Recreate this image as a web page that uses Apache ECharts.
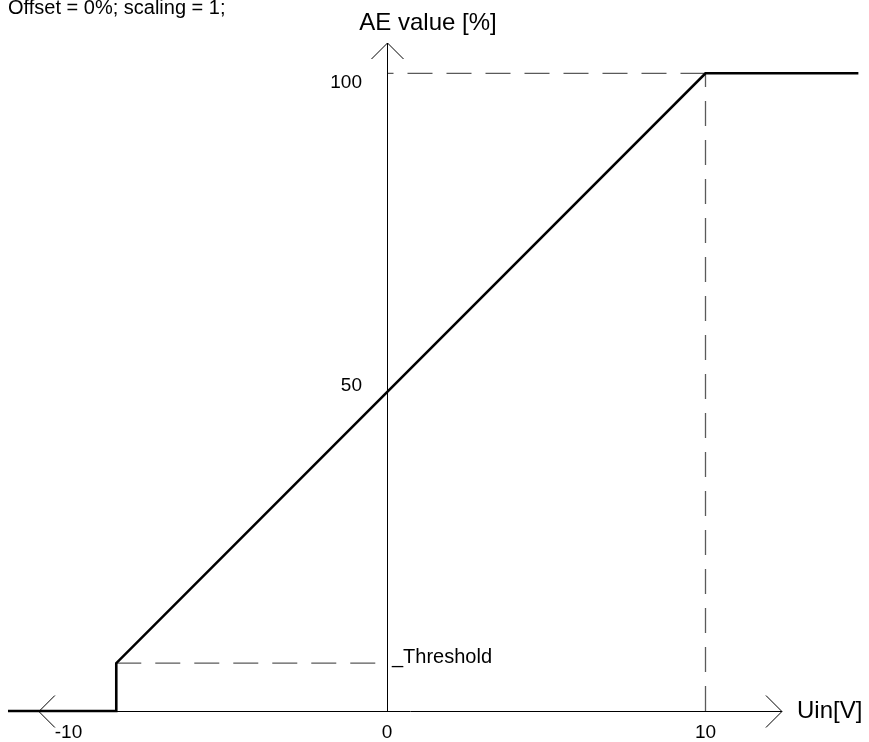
<!DOCTYPE html>
<html>
<head>
<meta charset="utf-8">
<title>AE value vs Uin</title>
<script src="https://cdn.jsdelivr.net/npm/echarts@6/dist/echarts.min.js"></script>
<style>
  html, body { margin: 0; padding: 0; background: #fff; }
  #chart { width: 869px; height: 742px; }
</style>
</head>
<body>
<div id="chart"></div>
<script>
// Transfer characteristic: input voltage Uin [V] -> AE value [%]
const uinValues = [-11.9, -8.5, -8.5, 10, 14.8];
const aeValues = [0, 0, 7.5, 100, 100];

// Reference levels
const thresholdUin = -8.5;
const thresholdAe = 7.5;
const fullScaleUin = 10;
const fullScaleAe = 100;

// Tick labels
const xTickValues = [-10, 0, 10];
const yTickValues = [50, 100];

// Drawn extent of the two axis arrows (data units)
const uinAxisRange = [-10.93, 12.4];
const aeAxisRange = [0, 104.75];

const FONT = '"Liberation Sans", Arial, Helvetica, sans-serif';
const GUIDE_COLOR = '#5a5a5a';
const GUIDE_DASH = [25, 14];

// Plot scale: 31.85 px per volt, 6.377 px per percent
const X_MIN = -12, X_MAX = 15, PX_PER_V = 31.85;
const Y_MIN = 0, Y_MAX = 105, PX_PER_PCT = 6.377;
const GRID_LEFT = 4.8;

const curve = uinValues.map((u, i) => [u, aeValues[i]]);
const guideFull = [[fullScaleUin, fullScaleAe], [0, fullScaleAe]];
const guideVertical = [[fullScaleUin, 0], [fullScaleUin, fullScaleAe]];
const guideThreshold = [[thresholdUin, thresholdAe], [0, thresholdAe]];

const chart = echarts.init(document.getElementById('chart'), null, { renderer: 'canvas' });

function px(v) { return Math.round(v) + 0.5; }

const option = {
  animation: false,
  backgroundColor: '#ffffff',
  textStyle: { fontFamily: FONT },
  title: {
    text: 'Offset = 0%; scaling = 1;',
    left: 8,
    top: -2,
    padding: 0,
    textStyle: { fontSize: 20, fontWeight: 'normal', color: '#000', fontFamily: FONT }
  },
  grid: {
    left: GRID_LEFT,
    width: (X_MAX - X_MIN) * PX_PER_V,
    bottom: 31,
    height: (Y_MAX - Y_MIN) * PX_PER_PCT,
    containLabel: false,
    outerBoundsMode: 'none'
  },
  xAxis: {
    type: 'value',
    min: X_MIN,
    max: X_MAX,
    name: 'Uin[V]',
    nameLocation: 'end',
    nameGap: -67.75,
    nameTextStyle: { fontSize: 24, color: '#000', fontFamily: FONT, padding: [0, 0, 18, 0] },
    axisLine: { show: false, onZero: false },
    axisTick: { show: false },
    splitLine: { show: false },
    axisLabel: {
      customValues: xTickValues,
      fontSize: 19,
      color: '#000',
      fontFamily: FONT,
      margin: 12,
      showMinLabel: true,
      showMaxLabel: true
    }
  },
  yAxis: {
    type: 'value',
    min: Y_MIN,
    max: Y_MAX,
    position: 'left',
    // move the vertical axis from the grid edge to Uin = 0
    offset: X_MIN * PX_PER_V,
    name: 'AE value [%]',
    nameLocation: 'end',
    nameGap: 6,
    nameTextStyle: { fontSize: 24, color: '#000', fontFamily: FONT, padding: [0, 0, 0, 82] },
    axisLine: { show: false, onZero: false },
    axisTick: { show: false },
    splitLine: { show: false },
    axisLabel: {
      customValues: yTickValues,
      fontSize: 19,
      color: '#000',
      fontFamily: FONT,
      margin: 25,
      formatter: function (v) {
        return v === fullScaleAe ? '{lower|' + v + '}' : '{upper|' + v + '}';
      },
      rich: {
        lower: { fontSize: 19, fontFamily: FONT, color: '#000', padding: [18, 0, 0, 0] },
        upper: { fontSize: 19, fontFamily: FONT, color: '#000', padding: [0, 0, 12, 0] }
      }
    }
  },
  series: [
    {
      name: 'axes',
      type: 'custom',
      coordinateSystem: 'cartesian2d',
      clip: false,
      silent: true,
      z: 3,
      data: [[0, 0]],
      renderItem: function (params, api) {
        const xs = api.coord([uinAxisRange[0], 0]);
        const xe = api.coord([uinAxisRange[1], 0]);
        const ys = api.coord([0, aeAxisRange[0]]);
        const ye = api.coord([0, aeAxisRange[1]]);
        const a = 16;
        const stroke = { stroke: '#000', lineWidth: 1, fill: null };
        const xl = px(xs[1]);
        const yl = px(ys[0]);
        return {
          type: 'group',
          children: [
            { type: 'line', shape: { x1: xs[0], y1: xl, x2: xe[0], y2: xl }, style: stroke },
            { type: 'line', shape: { x1: yl, y1: ys[1], x2: yl, y2: ye[1] }, style: stroke },
            { type: 'polyline', shape: { points: [[xs[0] + a, xl - a], [xs[0], xl], [xs[0] + a, xl + a]] }, style: stroke },
            { type: 'polyline', shape: { points: [[xe[0] - a, xl - a], [xe[0], xl], [xe[0] - a, xl + a]] }, style: stroke },
            { type: 'polyline', shape: { points: [[yl - a, ye[1] + a], [yl, ye[1]], [yl + a, ye[1] + a]] }, style: stroke }
          ]
        };
      }
    },
    {
      name: 'full scale',
      type: 'line',
      data: guideFull,
      symbol: 'none',
      clip: false,
      silent: true,
      z: 2,
      lineStyle: { color: GUIDE_COLOR, width: 1.3, type: GUIDE_DASH }
    },
    {
      name: 'full scale input',
      type: 'line',
      data: guideVertical,
      symbol: 'none',
      clip: false,
      silent: true,
      z: 2,
      lineStyle: { color: GUIDE_COLOR, width: 1.3, type: GUIDE_DASH }
    },
    {
      name: 'Threshold',
      type: 'line',
      data: guideThreshold,
      symbol: 'none',
      clip: false,
      silent: true,
      z: 2,
      lineStyle: { color: GUIDE_COLOR, width: 1.3, type: GUIDE_DASH },
      endLabel: {
        show: true,
        formatter: '_Threshold',
        fontSize: 20,
        color: '#000',
        fontFamily: FONT,
        distance: 5,
        offset: [0, -6]
      }
    },
    {
      name: 'AE value',
      type: 'line',
      data: curve,
      symbol: 'none',
      clip: false,
      silent: true,
      z: 5,
      lineStyle: { color: '#000', width: 2.6, join: 'miter' }
    }
  ]
};

chart.setOption(option);
</script>
</body>
</html>
